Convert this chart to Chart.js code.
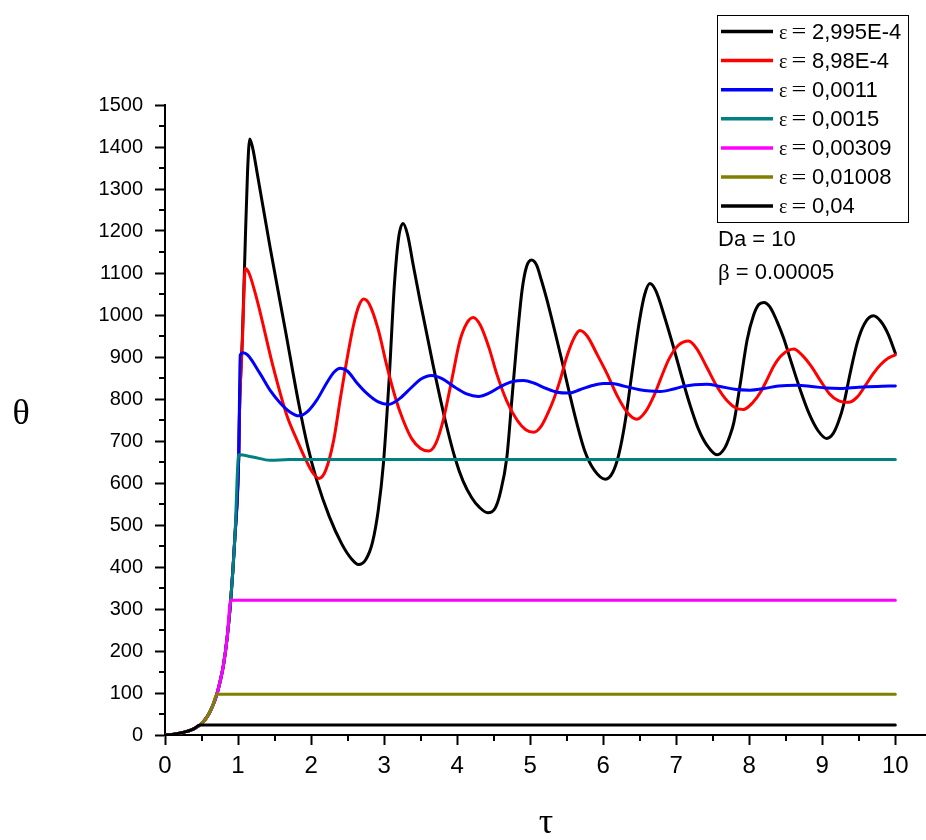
<!DOCTYPE html>
<html>
<head>
<meta charset="utf-8">
<script src="https://cdn.jsdelivr.net/npm/chart.js@4/dist/chart.umd.min.js"></script>
<style>
  html, body { margin: 0; padding: 0; background: #fff; }
</style>
</head>
<body>
<canvas id="grafico" width="926" height="840"></canvas>
<script>
const legendas = ["2,995E-4", "8,98E-4", "0,0011", "0,0015", "0,00309", "0,01008", "0,04"];
const cores = ["#000000", "#ff0000", "#0000ff", "#008080", "#ff00ff", "#808000", "#000000"];

const ticksTau = [0, 1, 2, 3, 4, 5, 6, 7, 8, 9, 10];
const ticksTheta = [0, 100, 200, 300, 400, 500, 600, 700, 800, 900, 1000, 1100, 1200, 1300, 1400, 1500];

// subida comum a todas as curvas
const subidaTau = [0, 0.1, 0.2, 0.3, 0.4, 0.48, 0.55, 0.6, 0.65, 0.71, 0.76, 0.8, 0.85, 0.9, 0.955, 1.01];
const subidaTheta = [0, 1.5, 4, 8.5, 15, 24, 37, 50, 68, 97, 132, 166, 230, 321, 465, 667];

// eps = 2,995E-4
const cauda1Tau = [
  1.02, 1.06, 1.10, 1.13, 1.16, 1.20, 1.26, 1.44, 1.65, 1.83,
  1.95, 2.08, 2.25, 2.42, 2.55, 2.65, 2.75, 2.84, 2.92, 2.99,
  3.07, 3.14, 3.20, 3.26, 3.32, 3.40, 3.49, 3.675, 3.836, 3.97,
  4.08, 4.20, 4.30, 4.42, 4.52, 4.59, 4.68, 4.75, 4.82, 4.89,
  4.95, 5.02, 5.09, 5.15, 5.23, 5.41, 5.62, 5.75, 5.88, 6.03,
  6.13, 6.21, 6.30, 6.40, 6.50, 6.57, 6.64, 6.72, 6.85, 6.96,
  7.08, 7.19, 7.30, 7.42, 7.56, 7.66, 7.73, 7.79, 7.88, 7.97,
  8.06, 8.13, 8.20, 8.28, 8.38, 8.47, 8.58, 8.70, 8.82, 8.94,
  9.06, 9.15, 9.22, 9.29, 9.38, 9.48, 9.58, 9.70, 9.80, 9.90,
  10];
const cauda1Theta = [
  770, 950, 1180, 1340, 1419, 1398, 1340, 1160, 962, 790,
  690, 605, 520, 455, 420, 406, 418, 458, 535, 645,
  850, 1070, 1185, 1218, 1192, 1118, 1036, 877, 750, 660,
  605, 565, 543, 529, 540, 576, 660, 800, 940, 1060,
  1115, 1131, 1118, 1085, 1036, 909, 755, 675, 630, 609,
  625, 665, 745, 870, 990, 1050, 1075, 1058, 990, 925,
  850, 785, 730, 690, 667, 682, 710, 745, 840, 940,
  1000, 1025, 1030, 1020, 985, 945, 885, 821, 765, 725,
  706, 718, 745, 785, 860, 935, 980, 998, 985, 955,
  909];

// eps = 8,98E-4
const cauda2Tau = [
  1.02, 1.06, 1.10, 1.15, 1.26, 1.48, 1.67, 1.80, 1.92, 2.02,
  2.11, 2.20, 2.31, 2.40, 2.49, 2.58, 2.65, 2.72, 2.80, 2.92,
  3.04, 3.16, 3.26, 3.38, 3.50, 3.61, 3.71, 3.81, 3.92, 4.04,
  4.13, 4.22, 4.32, 4.44, 4.54, 4.68, 4.82, 4.94, 5.05, 5.15,
  5.24, 5.32, 5.41, 5.50, 5.60, 5.68, 5.78, 5.92, 6.05, 6.20,
  6.33, 6.46, 6.58, 6.70, 6.78, 6.90, 7.03, 7.17, 7.28, 7.42,
  7.56, 7.70, 7.82, 7.92, 8.04, 8.16, 8.24, 8.34, 8.45, 8.61,
  8.72, 8.84, 8.97, 9.10, 9.22, 9.36, 9.48, 9.60, 9.70, 9.80,
  9.90, 10];
const cauda2Theta = [
  770, 940, 1111, 1100, 1036, 877, 760, 705, 658, 625,
  611, 630, 702, 800, 893, 975, 1020, 1038, 1025, 965,
  877, 800, 750, 705, 682, 676, 695, 750, 840, 940,
  980, 994, 975, 920, 861, 795, 750, 727, 721, 735,
  765, 798, 845, 900, 945, 963, 950, 905, 861, 805,
  768, 752, 770, 810, 845, 895, 928, 938, 920, 875,
  829, 795, 778, 775, 790, 818, 845, 880, 905, 919,
  905, 880, 845, 812, 796, 792, 805, 835, 861, 882,
  897, 905];

// eps = 0,0011
const cauda3Tau = [
  1.03, 1.07, 1.13, 1.30, 1.45, 1.58, 1.72, 1.83, 1.95, 2.08,
  2.22, 2.32, 2.40, 2.50, 2.62, 2.76, 2.92, 3.06, 3.22, 3.36,
  3.50, 3.65, 3.80, 3.97, 4.13, 4.29, 4.45, 4.60, 4.75, 4.91,
  5.05, 5.22, 5.37, 5.52, 5.68, 5.85, 6.00, 6.12, 6.30, 6.50,
  6.64, 6.78, 6.95, 7.10, 7.25, 7.42, 7.60, 7.80, 8.01, 8.20,
  8.40, 8.65, 8.85, 9.05, 9.25, 9.50, 9.75, 10];
const cauda3Theta = [
  905, 910, 905, 861, 818, 790, 768, 760, 770, 798,
  840, 865, 873, 866, 840, 814, 793, 787, 802, 825,
  847, 856, 848, 828, 812, 806, 815, 830, 841, 844,
  838, 825, 816, 814, 822, 832, 837, 837, 830, 822,
  819, 818, 823, 830, 834, 835, 830, 823, 821, 825,
  831, 833, 830, 826, 825, 828, 830, 831];

// eps = 0,0015
const cauda4Tau = [1.2, 1.44, 1.7, 10];
const cauda4Theta = [662, 654, 656, 656];

// eps = 0,00309 / 0,01008 / 0,04 (patamares)
const cauda5Tau = [10];
const cauda5Theta = [321];
const cauda6Tau = [10];
const cauda6Theta = [97];
const cauda7Tau = [10];
const cauda7Theta = [24];

const corte = [16, 16, 16, 16, 14, 10, 6];
const caudasTau = [cauda1Tau, cauda2Tau, cauda3Tau, cauda4Tau, cauda5Tau, cauda6Tau, cauda7Tau];
const caudasTheta = [cauda1Theta, cauda2Theta, cauda3Theta, cauda4Theta, cauda5Theta, cauda6Theta, cauda7Theta];

const datasets = legendas.map((nome, i) => {
  const tau = subidaTau.slice(0, corte[i]).concat(caudasTau[i]);
  const theta = subidaTheta.slice(0, corte[i]).concat(caudasTheta[i]);
  return {
    label: nome,
    data: tau.map((t, k) => ({ x: t, y: theta[k] })),
    borderColor: cores[i],
    borderWidth: 3,
    pointRadius: 0,
    fill: false,
    cubicInterpolationMode: "monotone",
    borderJoinStyle: "round",
    borderCapStyle: "round",
    order: legendas.length - i
  };
});

const sans = "'Liberation Sans', Arial, sans-serif";
const serif = "'Liberation Serif', 'Times New Roman', serif";

const extras = {
  id: "extras",
  afterDraw(chart) {
    const ctx = chart.ctx;
    const sx = chart.scales.x;
    const sy = chart.scales.y;
    const area = chart.chartArea;
    ctx.save();
    ctx.strokeStyle = "#000";
    ctx.lineWidth = 2;
    ctx.beginPath();
    for (let v = 0.5; v < 10; v += 1) {
      const px = Math.round(sx.getPixelForValue(v));
      ctx.moveTo(px, area.bottom);
      ctx.lineTo(px, area.bottom + 6);
    }
    for (let v = 50; v < 1500; v += 100) {
      const py = Math.round(sy.getPixelForValue(v));
      ctx.moveTo(area.left, py);
      ctx.lineTo(area.left - 6, py);
    }
    ctx.stroke();

    // titulos dos eixos
    ctx.fillStyle = "#000";
    ctx.textAlign = "center";
    ctx.textBaseline = "middle";
    ctx.font = "36px " + serif;
    ctx.fillText("θ", 21, 415);
    ctx.fillText("τ", 546, 824);

    // legenda
    ctx.lineWidth = 1;
    ctx.strokeRect(717.5, 15.5, 191, 207);
    legendas.forEach((nome, i) => {
      const y = 31.5 + i * 29.1;
      ctx.strokeStyle = cores[i];
      ctx.lineWidth = 3.5;
      ctx.beginPath();
      ctx.moveTo(721, y);
      ctx.lineTo(773, y);
      ctx.stroke();
      ctx.font = "20px " + serif;
      ctx.textAlign = "left";
      ctx.fillText("ε", 779, y + 2);
      // sinal de igual mais largo, como no original
      ctx.save();
      ctx.translate(799, y + 1);
      ctx.scale(1.25, 1);
      ctx.textAlign = "center";
      ctx.font = "21px " + serif;
      ctx.fillText("=", 0, 0);
      ctx.restore();
      ctx.textAlign = "left";
      ctx.font = "22px " + sans;
      ctx.fillText(nome, 812, y + 1);
    });

    ctx.textAlign = "left";
    ctx.font = "22px " + sans;
    ctx.fillText("Da = 10", 718, 240);
    ctx.font = "23px " + serif;
    ctx.fillText("β", 718, 274);
    const wb = ctx.measureText("β").width;
    ctx.font = "22px " + sans;
    ctx.fillText(" = 0.00005", 718 + wb, 273);
    ctx.restore();
  }
};

new Chart(document.getElementById("grafico"), {
  type: "line",
  data: { datasets },
  options: {
    responsive: false,
    animation: false,
    layout: { padding: { top: 105, left: 0, right: 0, bottom: 0 } },
    plugins: { legend: { display: false }, tooltip: { enabled: false } },
    scales: {
      x: {
        type: "linear",
        min: 0,
        max: 10.42,
        afterFit: (s) => { s.height = 105; },
        afterBuildTicks: (s) => { s.ticks = ticksTau.map(v => ({ value: v })); },
        border: { display: true, color: "#000", width: 2 },
        grid: { display: true, drawOnChartArea: false, drawTicks: true, tickLength: 10, tickWidth: 2, tickColor: "#000" },
        ticks: { color: "#000", padding: 7, font: { family: sans, size: 24 }, maxRotation: 0, callback: (v) => String(v) }
      },
      y: {
        min: 0,
        max: 1500,
        afterFit: (s) => { s.width = 165; },
        afterBuildTicks: (s) => { s.ticks = ticksTheta.map(v => ({ value: v })); },
        border: { display: true, color: "#000", width: 2 },
        grid: { display: true, drawOnChartArea: false, drawTicks: true, tickLength: 10, tickWidth: 2, tickColor: "#000" },
        ticks: { color: "#000", padding: 12, font: { family: sans, size: 20 }, callback: (v) => String(v) }
      }
    }
  },
  plugins: [extras]
});
</script>
</body>
</html>
